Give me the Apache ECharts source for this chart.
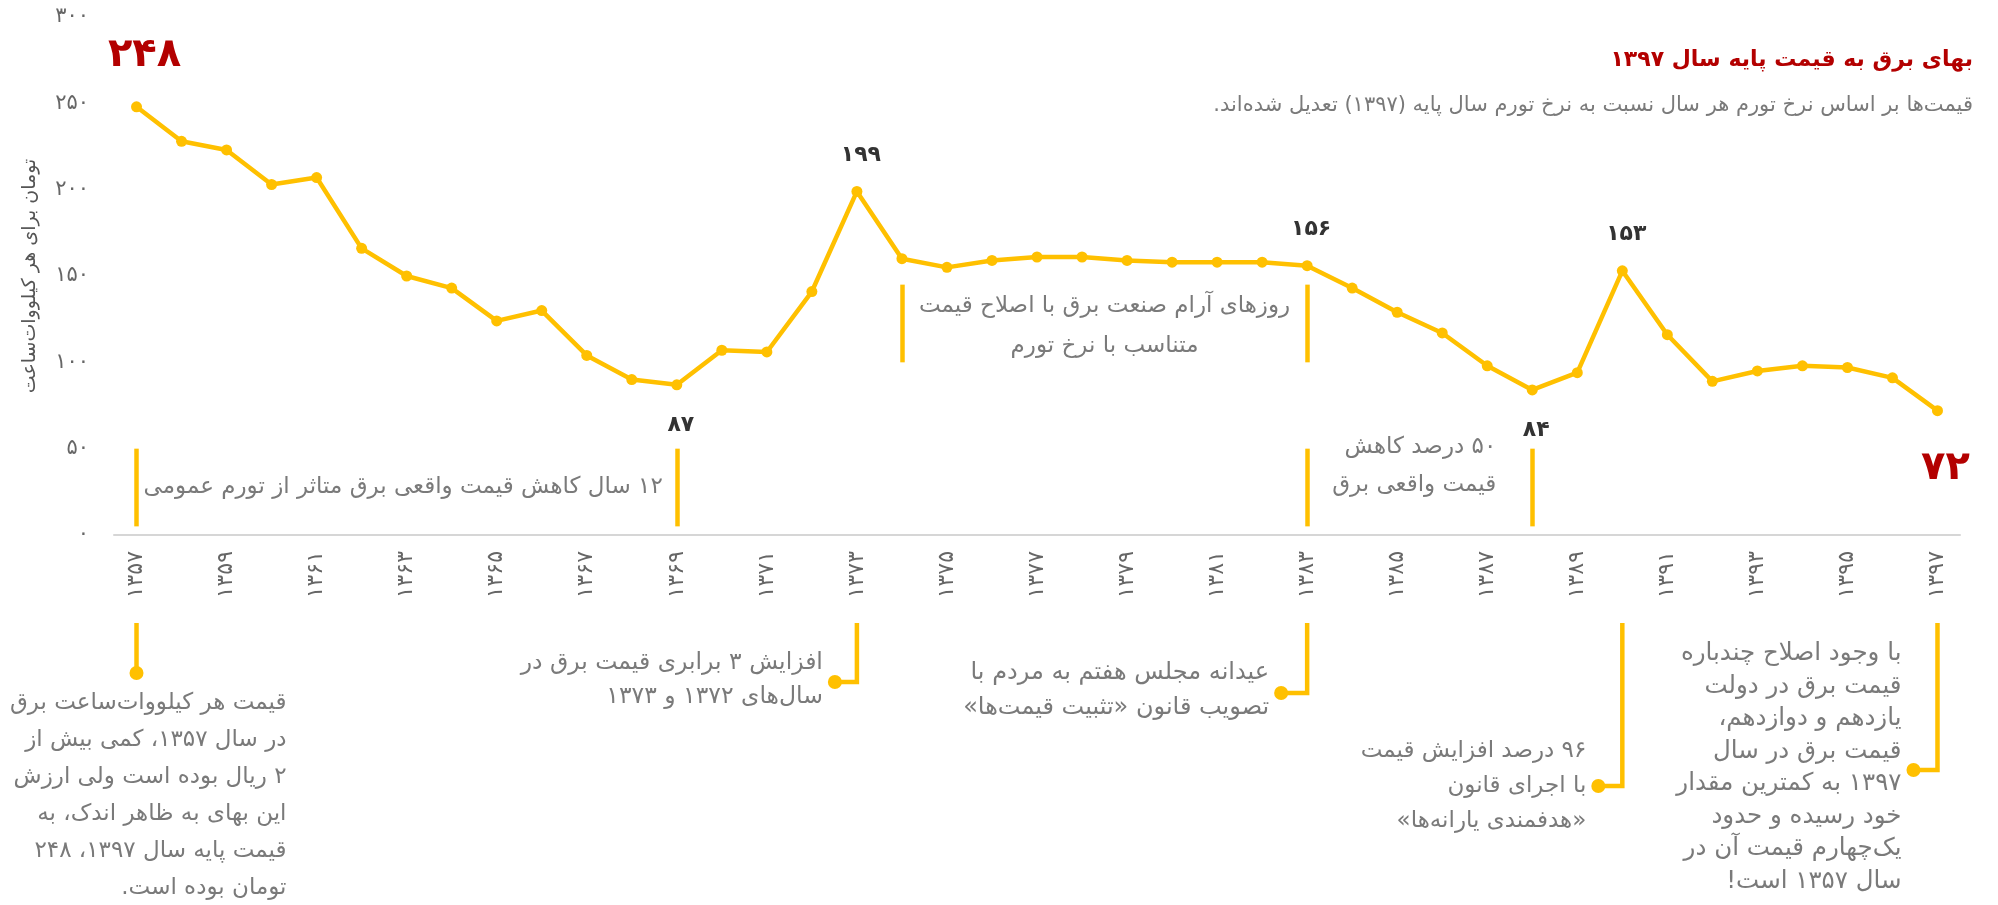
<!DOCTYPE html>
<html lang="fa">
<head>
<meta charset="utf-8">
<title>بهای برق به قیمت پایه سال ۱۳۹۷</title>
<script src="https://cdn.jsdelivr.net/npm/echarts@6/dist/echarts.min.js"></script>
<style>
  html, body { margin: 0; padding: 0; background: #fff; }
  #chart { width: 1998px; height: 905px; direction: rtl; }
</style>
</head>
<body>
<div id="chart"></div>
<script>
// سال‌ها و قیمت هر کیلووات‌ساعت (تومان، به قیمت پایه ۱۳۹۷)
const years = [1357, 1358, 1359, 1360, 1361, 1362, 1363, 1364, 1365, 1366, 1367, 1368, 1369,
  1370, 1371, 1372, 1373, 1374, 1375, 1376, 1377, 1378, 1379, 1380, 1381, 1382, 1383,
  1384, 1385, 1386, 1387, 1388, 1389, 1390, 1391, 1392, 1393, 1394, 1395, 1396, 1397]
const prices = [248, 228, 223, 203, 207, 166, 150, 143, 124, 130, 104, 90, 87,
  107, 106, 141, 199, 160, 155, 159, 161, 161, 159, 158, 158, 158, 156,
  143, 129, 117, 98, 84, 94, 153, 116, 89, 95, 98, 97, 91, 72]
const yTicks = [0, 50, 100, 150, 200, 250, 300]

// نقاطی که عددشان روی نمودار نوشته شده
const labelYears = [1357, 1369, 1373, 1383, 1388, 1390, 1397]
const labelSides = ['top', 'bottom', 'top', 'top', 'bottom', 'top', 'bottom']

const titleText = 'بهای برق به قیمت پایه سال ۱۳۹۷'
const subText = 'قیمت‌ها بر اساس نرخ تورم هر سال نسبت به نرخ تورم سال پایه (۱۳۹۷) تعدیل شده‌اند.'
const yName = 'تومان برای هر کیلووات‌ساعت'

// بازه‌های داخل نمودار: [سال شروع، سال پایان، پایین، بالا]
const spans = [[1357, 1369, 5, 50], [1374, 1383, 100, 145], [1383, 1388, 5, 50]]

const notesBelow = [
  { year: 1357, lines: ['قیمت هر کیلووات‌ساعت برق', 'در سال ۱۳۵۷، کمی بیش از', '۲ ریال بوده است ولی ارزش', 'این بهای به ظاهر اندک، به', 'قیمت پایه سال ۱۳۹۷، ۲۴۸', 'تومان بوده است.'] },
  { year: 1373, lines: ['افزایش ۳ برابری قیمت برق در', 'سال‌های ۱۳۷۲ و ۱۳۷۳'] },
  { year: 1383, lines: ['عیدانه مجلس هفتم به مردم با', 'تصویب قانون «تثبیت قیمت‌ها»'] },
  { year: 1390, lines: ['۹۶ درصد افزایش قیمت', 'با اجرای قانون', '«هدفمندی یارانه‌ها»'] },
  { year: 1397, lines: ['با وجود اصلاح چندباره', 'قیمت برق در دولت', 'یازدهم و دوازدهم،', 'قیمت برق در سال', '۱۳۹۷ به کمترین مقدار', 'خود رسیده و حدود', 'یک‌چهارم قیمت آن در', 'سال ۱۳۵۷ است!'] }
]

const YELLOW = '#FFC000'
const RED = '#B30000'
const GRAY = '#7a7a7a'
const FONT = '"DejaVu Sans", sans-serif'

const fa = s => String(s).replace(/[0-9]/g, d => '۰۱۲۳۴۵۶۷۸۹'[+d])

const seriesData = prices.map((v, i) => {
  const k = labelYears.indexOf(years[i])
  if (k < 0) return v
  const big = k === 0 || k === labelYears.length - 1
  const down = labelSides[k] === 'bottom'
  return {
    value: v,
    label: {
      show: true,
      position: labelSides[k],
      distance: big ? (down ? 32 : 26) : (down ? 24 : 20),
      offset: big ? [8, 0] : [4, 0],
      formatter: p => fa(p.value),
      color: big ? RED : '#333',
      fontSize: big ? 40 : 22,
      fontWeight: 'bold',
      fontFamily: FONT
    }
  }
})

const chart = echarts.init(document.getElementById('chart'))

chart.setOption({
  backgroundColor: '#fff',
  animation: false,
  grid: { left: 114, right: 38, top: 17, bottom: 370 },
  xAxis: {
    type: 'category',
    data: years.map(fa),
    boundaryGap: true,
    axisLine: { lineStyle: { color: '#d6d6d6', width: 2 } },
    axisTick: { show: false },
    axisLabel: { interval: 1, rotate: 90, margin: 16, color: '#666', fontSize: 22, fontFamily: FONT },
    splitLine: { show: false }
  },
  yAxis: {
    type: 'value',
    min: yTicks[0],
    max: yTicks[yTicks.length - 1],
    interval: 50,
    name: yName,
    nameLocation: 'middle',
    nameRotate: 90,
    nameGap: 74,
    nameTextStyle: { color: '#555', fontSize: 19, fontFamily: FONT },
    axisLine: { show: false },
    axisTick: { show: false },
    splitLine: { show: false },
    axisLabel: { color: '#666', fontSize: 21, margin: 25, fontFamily: FONT, formatter: v => fa(v) }
  },
  series: [{
    type: 'line',
    data: seriesData,
    symbol: 'circle',
    symbolSize: 11,
    lineStyle: { color: YELLOW, width: 4.5 },
    itemStyle: { color: YELLOW },
    markLine: {
      silent: true,
      symbol: 'none',
      label: { show: false },
      lineStyle: { color: YELLOW, width: 4.5, type: 'solid' },
      data: spans.flatMap(s => [
        [{ coord: [years.indexOf(s[0]), s[2]] }, { coord: [years.indexOf(s[0]), s[3]] }],
        [{ coord: [years.indexOf(s[1]), s[2]] }, { coord: [years.indexOf(s[1]), s[3]] }]
      ])
    }
  }]
})

// یادداشت‌ها — جای افقی از محور گرفته می‌شود
const px = (year, v) => chart.convertToPixel({ gridIndex: 0 }, [years.indexOf(year), v])
const txt = (x, y, text, align, size, lh, extra) => ({
  type: 'text', silent: true,
  style: Object.assign({ x, y, text, align, verticalAlign: 'middle', fill: GRAY, font: size + 'px ' + FONT, lineHeight: lh }, extra || {})
})

const graphics = []

// عنوان
graphics.push(txt(1973, 60, titleText, 'right', 22, 30, { fill: RED, font: 'bold 22px ' + FONT }))
graphics.push(txt(1973, 106, subText, 'right', 21, 28))

// متن بازه‌ها داخل نمودار
let p = px(1369, 28)
graphics.push(txt(p[0] - 14, p[1], '۱۲ سال کاهش قیمت واقعی برق متاثر از تورم عمومی', 'right', 23, 30))
let a = px(1374, 0), b = px(1383, 121)
graphics.push(txt((a[0] + b[0]) / 2, b[1], 'روزهای آرام صنعت برق با اصلاح قیمت\nمتناسب با نرخ تورم', 'center', 23, 40))
p = px(1388, 40)
graphics.push(txt(p[0] - 36, p[1], '۵۰ درصد کاهش\nقیمت واقعی برق', 'right', 23, 38))

// یادداشت‌های زیر محور
const top0 = 623
const below = [
  { drop: 673, elbow: 0, first: 703, lh: 37, size: 23 },
  { drop: 682, elbow: 22, first: 663, lh: 34, size: 23.5 },
  { drop: 693, elbow: 26, first: 673, lh: 35, size: 24 },
  { drop: 786, elbow: 24, first: 751, lh: 35, size: 23 },
  { drop: 770, elbow: 24, first: 654, lh: 32.5, size: 24.5 }
]
notesBelow.forEach((n, i) => {
  const x = px(n.year, 0)[0]
  const g = below[i]
  const pts = g.elbow ? [[x, top0], [x, g.drop], [x - g.elbow, g.drop]] : [[x, top0], [x, g.drop]]
  graphics.push({ type: 'polyline', silent: true, shape: { points: pts }, style: { stroke: YELLOW, lineWidth: 4.5, fill: null } })
  const dx = x - g.elbow
  graphics.push({ type: 'circle', silent: true, shape: { cx: dx, cy: g.drop, r: 7 }, style: { fill: YELLOW } })
  const tx = g.elbow ? dx - 12 : x + 150
  graphics.push({
    type: 'text', silent: true,
    style: { x: tx, y: g.first - g.lh / 2, text: n.lines.join('\n'), align: 'right', verticalAlign: 'top', fill: GRAY, font: g.size + 'px ' + FONT, lineHeight: g.lh }
  })
})

chart.setOption({ graphic: graphics })

window.addEventListener('resize', () => chart.resize())
</script>
</body>
</html>
